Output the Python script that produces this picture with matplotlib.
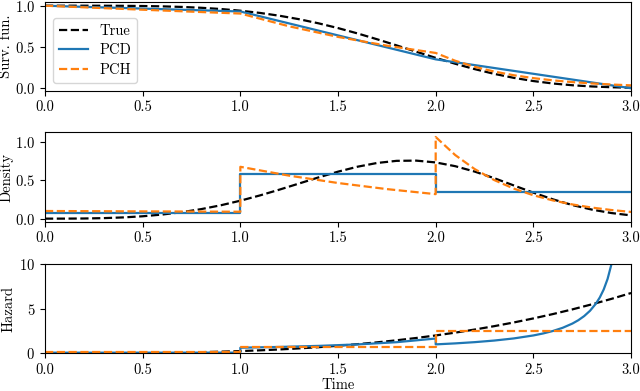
import matplotlib
matplotlib.use("Agg")
import matplotlib.pyplot as plt

plt.rcParams['font.family'] = ['cmr10', 'DejaVu Serif']
plt.rcParams['mathtext.fontset'] = 'cm'
plt.rcParams['axes.formatter.use_mathtext'] = True
plt.rcParams['font.size'] = 10.5

# True distribution
t_true = [0.0, 0.1, 0.2, 0.3, 0.4, 0.5, 0.6, 0.7, 0.8, 0.9, 1.0, 1.1, 1.2, 1.3, 1.4, 1.5,
          1.6, 1.7, 1.8, 1.9, 2.0, 2.1, 2.2, 2.3, 2.4, 2.5, 2.6, 2.7, 2.8, 2.9, 3.0]
surv_true = [1.0, 1.0, 0.9999, 0.9995, 0.9984, 0.9961, 0.9919, 0.9851, 0.9747, 0.9598, 0.9394,
             0.9125, 0.8784, 0.8365, 0.7866, 0.7288, 0.6639, 0.5933, 0.5189, 0.4429, 0.3679,
             0.2966, 0.2313, 0.1740, 0.1257, 0.0871, 0.0575, 0.0361, 0.0215, 0.0120, 0.0063]
dens_true = [0.0, 0.0003, 0.0020, 0.0067, 0.0160, 0.0311, 0.0536, 0.0845, 0.1248, 0.1749, 0.2349,
             0.3037, 0.3795, 0.4594, 0.5396, 0.6149, 0.6798, 0.7287, 0.7566, 0.7595, 0.7358,
             0.6867, 0.6157, 0.5293, 0.4344, 0.3402, 0.2527, 0.1776, 0.1180, 0.0732, 0.0425]
haz_true = [0.0, 0.0003, 0.002, 0.0068, 0.016, 0.0313, 0.054, 0.0858, 0.128, 0.1823, 0.25,
            0.3328, 0.432, 0.5493, 0.686, 0.8438, 1.024, 1.2283, 1.458, 1.7148, 2.0,
            2.3153, 2.662, 3.0418, 3.456, 3.9063, 4.394, 4.9208, 5.488, 6.0973, 6.75]

# PCD (piecewise constant density)
t_pcd_surv = [0.0, 1.0, 2.0, 3.0]
surv_pcd = [1.0, 0.93, 0.35, 0.0]
t_pcd_dens = [0.0, 1.0, 1.0, 2.0, 2.0, 3.0]
dens_pcd = [0.07, 0.07, 0.58, 0.58, 0.35, 0.35]
t_pcd_haz = [0.0, 1.0, 1.0, 1.2, 1.4, 1.6, 1.8, 2.0, 2.0, 2.1, 2.2, 2.3, 2.4, 2.5, 2.55,
             2.6, 2.65, 2.7, 2.73, 2.76, 2.79, 2.82, 2.84, 2.86, 2.88, 2.9, 2.92]
haz_pcd = [0.07, 0.0753, 0.624, 0.7125, 0.831, 0.9966, 1.2446, 1.657, 1.0, 1.111, 1.25,
           1.429, 1.667, 2.0, 2.222, 2.5, 2.857, 3.333, 3.704, 4.167, 4.762, 5.556, 6.25,
           7.143, 8.333, 10.0, 12.5]

# PCH (piecewise constant hazard)
t_pch_surv = [0.0, 0.25, 0.5, 0.75, 1.0, 1.25, 1.5, 1.75, 2.0, 2.1, 2.2, 2.3, 2.4, 2.5,
              2.6, 2.7, 2.8, 2.9, 3.0]
surv_pch = [1.0, 0.9753, 0.9512, 0.9277, 0.9048, 0.7501, 0.6219, 0.5156, 0.4274, 0.3329,
            0.2592, 0.2019, 0.1572, 0.1225, 0.0954, 0.0743, 0.0578, 0.0450, 0.0351]
t_pch_dens = [0.0, 0.5, 1.0, 1.0, 1.25, 1.5, 1.75, 2.0, 2.0, 2.1, 2.2, 2.3, 2.4, 2.5,
              2.6, 2.7, 2.8, 2.9, 3.0]
dens_pch = [0.1, 0.0951, 0.0905, 0.6786, 0.5626, 0.4664, 0.3867, 0.3206, 1.0685, 0.8322,
            0.6481, 0.5047, 0.3931, 0.3061, 0.2384, 0.1857, 0.1446, 0.1126, 0.0877]
t_pch_haz = [0.0, 1.0, 1.0, 2.0, 2.0, 3.0]
haz_pch = [0.1, 0.1, 0.75, 0.75, 2.5, 2.5]

xticks = [0.0, 0.5, 1.0, 1.5, 2.0, 2.5, 3.0]
c_true, c_pcd, c_pch = 'black', '#1f77b4', '#ff7f0e'
lw = 1.6

fig = plt.figure(figsize=(6.4, 3.91), dpi=100)
L, W = 0.0703, 0.9157
ax1 = fig.add_axes([L, 0.768, W, 0.228])
ax2 = fig.add_axes([L, 0.433, W, 0.2286])
ax3 = fig.add_axes([L, 0.0964, W, 0.2284])

ax1.plot(t_true, surv_true, '--', color=c_true, lw=lw, label='True')
ax1.plot(t_pcd_surv, surv_pcd, '-', color=c_pcd, lw=lw, label='PCD')
ax1.plot(t_pch_surv, surv_pch, '--', color=c_pch, lw=lw, label='PCH')
ax1.set_ylabel('Surv. fun.', fontsize=10.5)
ax1.yaxis.set_label_coords(-0.054, 0.5)
ax1.set_ylim(-0.03, 1.05)
ax1.set_yticks([0.0, 0.5, 1.0])
ax1.legend(loc='upper left', bbox_to_anchor=(0.0137, 0.815), borderaxespad=0,
           handlelength=2.0, borderpad=0.4, labelspacing=0.4, handletextpad=0.8,
           fontsize=10.5)

ax2.plot(t_true, dens_true, '--', color=c_true, lw=lw)
ax2.plot(t_pcd_dens, dens_pcd, '-', color=c_pcd, lw=lw)
ax2.plot(t_pch_dens, dens_pch, '--', color=c_pch, lw=lw)
ax2.set_ylabel('Density', fontsize=10.5)
ax2.yaxis.set_label_coords(-0.054, 0.5)
ax2.set_yticks([0.0, 0.5, 1.0])
ax2.set_ylim(-0.04, 1.13)

ax3.plot(t_true, haz_true, '--', color=c_true, lw=lw)
ax3.plot(t_pcd_haz, haz_pcd, '-', color=c_pcd, lw=lw)
ax3.plot(t_pch_haz, haz_pch, '--', color=c_pch, lw=lw)
ax3.set_ylabel('Hazard', fontsize=10.5)
ax3.yaxis.set_label_coords(-0.051, 0.5)
ax3.set_ylim(0, 10)
ax3.set_yticks([0, 5, 10])
ax3.set_xlabel('Time', fontsize=10.5, labelpad=1)

for ax in (ax1, ax2, ax3):
    ax.set_xlim(0, 3)
    ax.set_xticks(xticks)
    ax.set_xticklabels([f'{v:.1f}' for v in xticks])

fig.savefig('out.png', dpi=100)
